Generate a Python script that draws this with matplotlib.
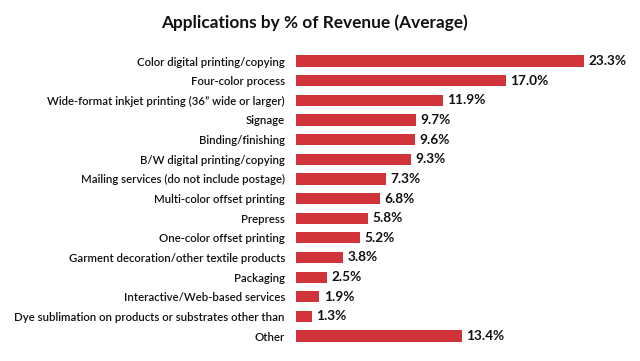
import matplotlib
matplotlib.use("Agg")
import matplotlib.pyplot as plt

plt.rcParams['font.family'] = ['Lato', 'DejaVu Sans']

categories = [
    "Color digital printing/copying",
    "Four-color process",
    "Wide-format inkjet printing (36\u201d wide or larger)",
    "Signage",
    "Binding/finishing",
    "B/W digital printing/copying",
    "Mailing services (do not include postage)",
    "Multi-color offset printing",
    "Prepress",
    "One-color offset printing",
    "Garment decoration/other textile products",
    "Packaging",
    "Interactive/Web-based services",
    "Dye sublimation on products or substrates other than",
    "Other",
]
values = [23.3, 17.0, 11.9, 9.7, 9.6, 9.3, 7.3, 6.8, 5.8, 5.2, 3.8, 2.5, 1.9, 1.3, 13.4]

bar_color = "#d0343a"

fig = plt.figure(figsize=(6.4, 3.61), dpi=100)
ax = fig.add_axes([0.4625, 0.042, 0.5075, 0.816])

y = range(len(values))
ax.barh(y, values, height=0.57, color=bar_color)
ax.set_ylim(len(values) - 0.5, -0.5)
ax.set_xlim(0, (0.97 * 640 - 296) / 12.36)

for i, v in enumerate(values):
    ax.text(v + 0.35, i, f"{v:.1f}%", va="center", ha="left",
            fontsize=9.8, fontweight="bold", color="#111111")

ax.set_yticks(list(y))
ax.set_yticklabels(categories, fontsize=8.2, fontweight="semibold", color="#111111")
ax.tick_params(axis="y", length=0, pad=8)
ax.set_xticks([])
for s in ax.spines.values():
    s.set_visible(False)

fig.text(0.492, 0.937, "Applications by % of Revenue (Average)", ha="center", va="center",
         fontsize=12.4, fontweight="bold", color="#111111")

fig.savefig("out.png", dpi=100)
